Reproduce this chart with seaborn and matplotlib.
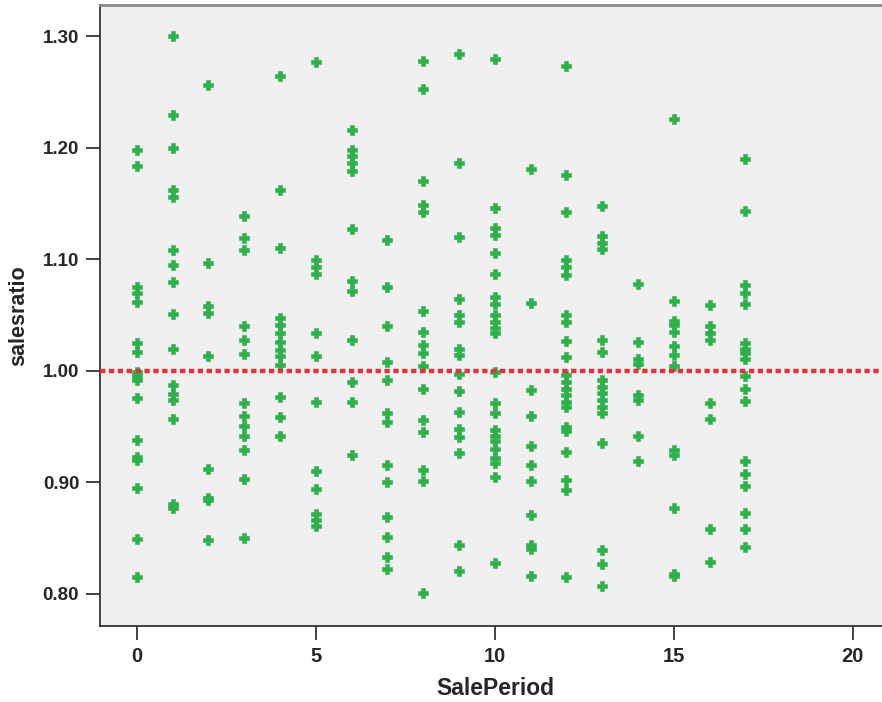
import matplotlib
matplotlib.use("Agg")
import matplotlib.pyplot as plt
import pandas as pd
import seaborn as sns

# salesratio values, one list per SalePeriod
period_0 = [1.198, 1.184, 1.075, 1.070, 1.062, 1.025, 1.017, 0.999, 0.995, 0.992,
            0.976, 0.938, 0.923, 0.920, 0.895, 0.849, 0.815]
period_1 = [1.300, 1.229, 1.200, 1.162, 1.156, 1.108, 1.095, 1.080, 1.051, 1.020,
            0.987, 0.979, 0.974, 0.957, 0.881, 0.877]
period_2 = [1.256, 1.097, 1.058, 1.052, 1.013, 0.912, 0.886, 0.884, 0.848]
period_3 = [1.139, 1.119, 1.108, 1.040, 1.028, 1.015, 0.971, 0.960, 0.951, 0.942,
            0.929, 0.903, 0.850]
period_4 = [1.264, 1.162, 1.110, 1.047, 1.041, 1.034, 1.026, 1.019, 1.013, 1.005,
            0.977, 0.959, 0.942]
period_5 = [1.277, 1.099, 1.093, 1.087, 1.034, 1.013, 0.972, 0.910, 0.894, 0.872,
            0.866, 0.861]
period_6 = [1.216, 1.198, 1.193, 1.186, 1.179, 1.127, 1.081, 1.072, 1.028, 0.990,
            0.972, 0.925]
period_7 = [1.117, 1.075, 1.040, 1.008, 0.992, 0.962, 0.954, 0.916, 0.900, 0.869,
            0.851, 0.833, 0.822]
period_8 = [1.278, 1.253, 1.170, 1.149, 1.142, 1.054, 1.035, 1.023, 1.016, 1.004,
            0.984, 0.956, 0.945, 0.911, 0.901, 0.801]
period_9 = [1.284, 1.186, 1.120, 1.064, 1.050, 1.044, 1.020, 1.014, 0.997, 0.982,
            0.963, 0.948, 0.941, 0.926, 0.844, 0.821]
period_10 = [1.280, 1.146, 1.128, 1.122, 1.106, 1.087, 1.066, 1.060, 1.050, 1.044,
             1.038, 1.034, 0.999, 0.971, 0.962, 0.947, 0.942, 0.937, 0.930, 0.922,
             0.917, 0.905, 0.828]
period_11 = [1.181, 1.061, 0.983, 0.960, 0.933, 0.916, 0.901, 0.871, 0.844, 0.840,
             0.816]
period_12 = [1.273, 1.176, 1.142, 1.099, 1.093, 1.086, 1.050, 1.044, 1.027, 1.012,
             0.996, 0.990, 0.984, 0.978, 0.972, 0.968, 0.950, 0.946, 0.927, 0.902,
             0.893, 0.815]
period_13 = [1.148, 1.121, 1.115, 1.109, 1.028, 1.017, 0.992, 0.986, 0.980, 0.974,
             0.968, 0.962, 0.935, 0.839, 0.827, 0.807]
period_14 = [1.078, 1.026, 1.011, 1.006, 0.978, 0.974, 0.942, 0.919]
period_15 = [1.226, 1.063, 1.045, 1.041, 1.035, 1.022, 1.014, 1.004, 0.929, 0.925,
             0.877, 0.818, 0.816]
period_16 = [1.059, 1.040, 1.034, 1.028, 0.971, 0.957, 0.858, 0.829]
period_17 = [1.190, 1.143, 1.077, 1.070, 1.060, 1.025, 1.020, 1.016, 1.011, 0.995,
             0.984, 0.973, 0.919, 0.908, 0.897, 0.873, 0.858, 0.842]

columns = [period_0, period_1, period_2, period_3, period_4, period_5, period_6,
           period_7, period_8, period_9, period_10, period_11, period_12, period_13,
           period_14, period_15, period_16, period_17]

x_ticks = [0, 5, 10, 15, 20]
y_ticks = [0.80, 0.90, 1.00, 1.10, 1.20, 1.30]
reference_ratio = 1.00

rows = []
for period, values in enumerate(columns):
    for v in values:
        rows.append({"SalePeriod": period, "salesratio": v})
df = pd.DataFrame(rows)

sns.set_style("white")
plt.rcParams["font.family"] = ["Liberation Sans Narrow", "Liberation Sans", "DejaVu Sans"]

fig = plt.figure(figsize=(8.82, 7.02), dpi=100)
ax = fig.add_axes([100 / 882, 1 - 626 / 702, 1 - 100 / 882 + 0.01, 621 / 702])
ax.set_facecolor("#f0f0f0")

sns.scatterplot(
    data=df, x="SalePeriod", y="salesratio", ax=ax,
    marker="P", s=48, color="#2eb14b", edgecolor="#2eb14b", linewidth=0.4,
    zorder=3,
)
ax.axhline(reference_ratio, color="#e2323c", linewidth=3.2,
           linestyle=(0, (1.2, 0.8)), zorder=4)

ax.set_xlim(-1.03, 21.06)
ax.set_ylim(0.7713, 1.328)
ax.set_xticks(x_ticks)
ax.set_yticks(y_ticks)
ax.set_yticklabels([f"{t:.2f}" for t in y_ticks], family=["Liberation Sans", "DejaVu Sans"],
                   fontweight="bold", fontsize=13.5)
ax.set_xticklabels([str(t) for t in x_ticks], fontweight="bold", fontsize=14.5)
ax.tick_params(axis="both", direction="out", length=10, width=1.2, color="#222222",
               pad=5, bottom=True, left=True)

for side in ["left", "bottom"]:
    ax.spines[side].set_color("#333333")
    ax.spines[side].set_linewidth(1.3)
ax.spines["top"].set_color("#888888")
ax.spines["top"].set_linewidth(2)
ax.spines["right"].set_visible(False)

ax.set_xlabel("SalePeriod", fontweight="bold", fontsize=16.5, labelpad=8)
ax.set_ylabel("salesratio", fontweight="bold", fontsize=15.5, labelpad=10)

fig.savefig("out.png", dpi=100)
